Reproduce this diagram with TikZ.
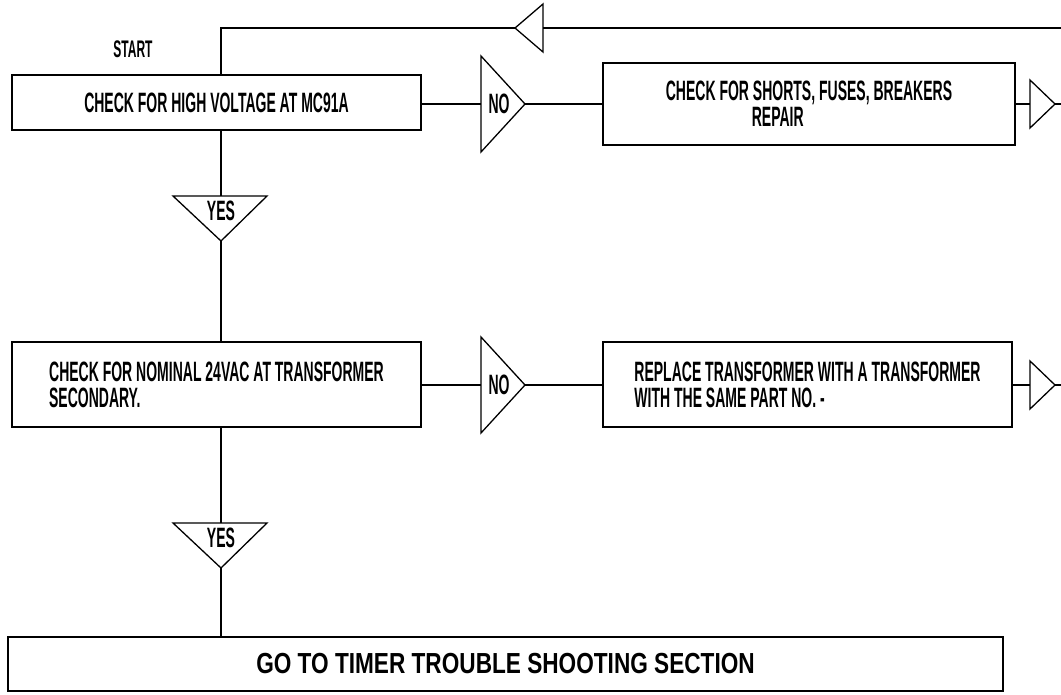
\documentclass[tikz,border=0pt]{standalone}
\usepackage{fontspec}
\newfontfamily\plotfont{Liberation Sans}[FakeStretch=0.5]
\newfontfamily\plotwide{Liberation Sans}[FakeStretch=0.78]
\tikzset{
  stepbox/.style={draw,line width=2.8pt,inner sep=0pt,align=left},
  link/.style={line width=1.3pt},
}
\begin{document}
\begin{tikzpicture}[x=1pt,y=-1pt,font=\plotfont\bfseries\fontsize{28}{26}\selectfont]
\useasboundingbox (0,0) rectangle (1061,694);
% boxes
\node[font=\plotfont\bfseries\fontsize{24}{26}\selectfont] (start) at (133,49) {START};
\node[stepbox,minimum width=409pt,minimum height=55pt] (volt) at (216.5,102.5) {CHECK FOR HIGH VOLTAGE AT MC91A};
\node[stepbox,minimum width=412pt,minimum height=82pt] (shorts) at (809,104) {CHECK FOR SHORTS, FUSES, BREAKERS\\\hspace*{86pt}REPAIR};
\node[stepbox,minimum width=409pt,minimum height=85pt] (check24) at (216.5,384.5) {CHECK FOR NOMINAL 24VAC AT TRANSFORMER\\SECONDARY.};
\node[stepbox,minimum width=409pt,minimum height=85pt] (replace) at (807.5,384.5) {REPLACE TRANSFORMER WITH A TRANSFORMER\\WITH THE SAME PART NO. -};
\node[stepbox,minimum width=995pt,minimum height=54pt,font=\plotwide\bfseries\fontsize{29}{30}\selectfont] (timer) at (505.5,664) {GO TO TIMER TROUBLE SHOOTING SECTION};
% return path along the top
\path (221,28) coordinate (ret) (515,28) coordinate (back) (1061,28) coordinate (backend);
\draw[link] (volt.north -| ret) -- (ret) -- (back);
\draw[link] (back) -- ++(28,-24) -- ++(0,48) -- cycle;
\draw[link] (back) ++(28,0) -- (backend);
% NO branches
\foreach \n/\y in {no1/104, no2/385}{
  \path (481,\y) coordinate (\n) (525,\y) coordinate (\n-tip);
  \draw[link] (\n) ++(0,-48) -- (\n-tip) -- ++(-44,48) -- cycle;
  \node (\n-lbl) at (499,\y) {NO};
}
\foreach \n/\y in {out1/104, out2/385}{
  \path (1030,\y) coordinate (\n) (1055,\y) coordinate (\n-tip) (1061,\y) coordinate (\n-end);
  \draw[link] (\n) ++(0,-24) -- (\n-tip) -- ++(-25,24) -- cycle;
  \draw[link] (\n-tip) -- (\n-end);
}
\draw[link] (volt.east |- no1) -- (no1) (no1-tip) -- (shorts.west |- no1-tip);
\draw[link] (shorts.east |- out1) -- (out1);
\draw[link] (check24.east |- no2) -- (no2) (no2-tip) -- (replace.west |- no2-tip);
\draw[link] (replace.east |- out2) -- (out2);
% YES branches
\foreach \n/\y in {yes1/196, yes2/523}{
  \path (221,\y) coordinate (\n) (221,\y+45) coordinate (\n-tip);
  \draw[link] (\n) ++(-48,0) -- ++(94,0) -- (\n-tip) -- cycle;
  \node (\n-lbl) at (221,\y+15) {YES};
}
\draw[link] (volt.south -| ret) -- (yes1) (yes1-tip) -- (check24.north -| yes1-tip);
\draw[link] (check24.south -| yes2) -- (yes2) (yes2-tip) -- (timer.north -| yes2-tip);
\end{tikzpicture}
\end{document}
